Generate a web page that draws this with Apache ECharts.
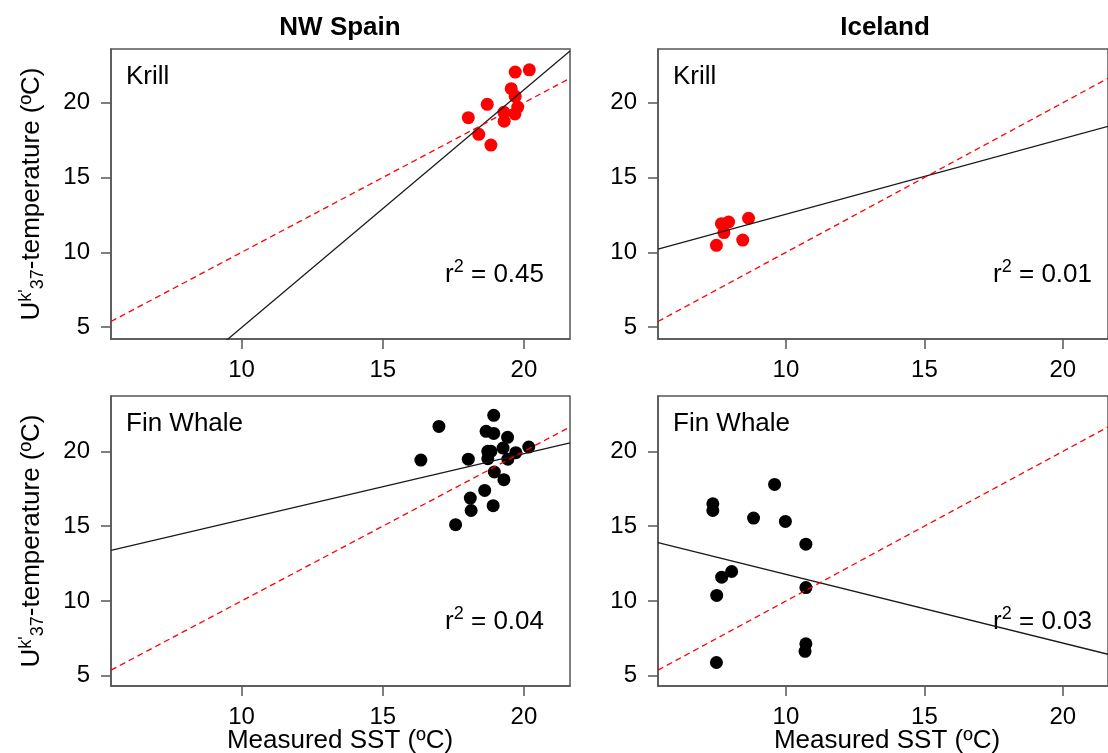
<!DOCTYPE html>
<html>
<head>
<meta charset="utf-8">
<script src="https://cdn.jsdelivr.net/npm/echarts@6/dist/echarts.min.js"></script>
<style>
html,body{margin:0;padding:0;background:#fff;}
#chart{width:1108px;height:753px;}
</style>
</head>
<body>
<div id="chart"></div>
<script>
// ---------- data ----------
const panelTitles = ['NW Spain', 'Iceland'];
const panelLabels = ['Krill', 'Krill', 'Fin Whale', 'Fin Whale'];
const r2Labels = ['0.45', '0.01', '0.04', '0.03'];
const xTicks = [10, 15, 20];
const yTicks = [5, 10, 15, 20];

// Krill, NW Spain (measured SST, Uk'37 temperature)
const krillSpainSST = [20.19, 19.69, 19.55, 19.69, 18.70, 19.78, 18.03, 19.29, 19.68, 19.30, 18.40, 18.83];
const krillSpainUk  = [22.20, 22.05, 20.94, 20.43, 19.89, 19.71, 19.00, 19.36, 19.25, 18.76, 17.89, 17.17];
// Krill, Iceland
const krillIcelandSST = [7.67, 7.93, 8.65, 7.76, 7.49, 8.44];
const krillIcelandUk  = [11.92, 12.03, 12.28, 11.32, 10.47, 10.82];
// Fin whale, NW Spain
const whaleSpainSST = [18.93, 16.99, 18.66, 18.93, 19.42, 18.72, 18.83, 19.26, 20.17, 19.71, 16.35, 18.03, 18.72, 19.43, 18.95, 19.29, 18.61, 18.10, 18.13, 18.91, 17.58];
const whaleSpainUk  = [22.41, 21.67, 21.34, 21.20, 20.94, 20.00, 20.00, 20.22, 20.29, 19.91, 19.42, 19.48, 19.51, 19.48, 18.62, 18.11, 17.39, 16.88, 16.05, 16.37, 15.10];
// Fin whale, Iceland
const whaleIcelandSST = [9.59, 7.36, 7.36, 8.83, 9.98, 10.72, 8.04, 7.68, 7.50, 10.72, 10.72, 10.69, 7.49];
const whaleIcelandUk  = [17.79, 16.50, 16.05, 15.54, 15.32, 13.80, 11.97, 11.59, 10.37, 10.90, 7.14, 6.64, 5.89];

// fitted regression lines [intercept, slope]
const fitKrillSpain = [-10.92, 1.589];
const fitKrillIceland = [7.50, 0.505];
const fitWhaleSpain = [11.0, 0.442];
const fitWhaleIceland = [16.37, -0.459];
// 1:1 reference line [intercept, slope]
const oneToOne = [0, 1];

// axis ranges
const xRange = [5.38, 21.63];
const yRangeTop = [4.21, 23.59];
const yRangeBottom = [4.32, 23.70];

// ---------- chart ----------
const FONT = '"Liberation Sans", Arial, sans-serif';
const AX = '#555';
const grids = [
  {left: 111, top: 49, width: 459, height: 290},
  {left: 658, top: 49, width: 459, height: 290},
  {left: 111, top: 396, width: 459, height: 290},
  {left: 658, top: 396, width: 459, height: 290}
].map(g => Object.assign(g, {show: true, borderColor: AX, borderWidth: 1.5, backgroundColor: 'transparent', containLabel: false}));

function xAxis(i) {
  return {
    type: 'value', gridIndex: i, min: xRange[0], max: xRange[1],
    axisLine: {show: true, onZero: false, lineStyle: {color: AX, width: 1.5}},
    axisTick: {show: true, length: 10, inside: false, customValues: xTicks, lineStyle: {color: AX, width: 1.5}},
    axisLabel: {customValues: xTicks, fontSize: 24, fontFamily: FONT, color: '#000', margin: 19},
    splitLine: {show: false}
  };
}
function yAxis(i, r) {
  return {
    type: 'value', gridIndex: i, min: r[0], max: r[1],
    axisLine: {show: true, onZero: false, lineStyle: {color: AX, width: 1.5}},
    axisTick: {show: true, length: 10, inside: false, customValues: yTicks, lineStyle: {color: AX, width: 1.5}},
    axisLabel: {customValues: yTicks, fontSize: 24, fontFamily: FONT, color: '#000', margin: 21, padding: [4, 0, 0, 0]},
    splitLine: {show: false}
  };
}
function zip(a, b) { return a.map((v, k) => [v, b[k]]); }
function scatter(i, xs, ys, color) {
  return {type: 'scatter', xAxisIndex: i, yAxisIndex: i, data: zip(xs, ys), symbol: 'circle', symbolSize: 13,
    itemStyle: {color: color, opacity: 1}, z: 2, silent: true, clip: true};
}
function abline(i, coef, color, type) {
  const d = [xRange[0], xRange[1]].map(x => [x, coef[0] + coef[1] * x]);
  return {type: 'line', xAxisIndex: i, yAxisIndex: i, data: d, showSymbol: false, symbol: 'none',
    lineStyle: {color: color, width: 1.3, type: type}, z: type === 'solid' ? 3 : 4, silent: true, clip: true};
}

const series = [
  scatter(0, krillSpainSST, krillSpainUk, '#ff0000'),
  scatter(1, krillIcelandSST, krillIcelandUk, '#ff0000'),
  scatter(2, whaleSpainSST, whaleSpainUk, '#000000'),
  scatter(3, whaleIcelandSST, whaleIcelandUk, '#000000'),
  abline(0, fitKrillSpain, '#1a1a1a', 'solid'),
  abline(1, fitKrillIceland, '#1a1a1a', 'solid'),
  abline(2, fitWhaleSpain, '#1a1a1a', 'solid'),
  abline(3, fitWhaleIceland, '#1a1a1a', 'solid'),
  abline(0, oneToOne, '#ff0000', [6, 4]),
  abline(1, oneToOne, '#ff0000', [6, 4]),
  abline(2, oneToOne, '#ff0000', [6, 4]),
  abline(3, oneToOne, '#ff0000', [6, 4])
];

const graphic = [];
// panel titles
[[340, 28], [885, 28]].forEach((p, k) => graphic.push({type: 'text', x: p[0], y: p[1],
  style: {text: panelTitles[k], font: 'bold 26px ' + FONT, fill: '#000', align: 'center', verticalAlign: 'middle'}}));
// panel labels
grids.forEach((g, k) => graphic.push({type: 'text', x: g.left + 15, y: g.top + 28,
  style: {text: panelLabels[k], font: '26px ' + FONT, fill: '#000', align: 'left', verticalAlign: 'middle'}}));
// r^2 labels
grids.forEach((g, k) => graphic.push({type: 'text', x: (k % 2 === 0 ? g.left + 433 : g.left + 434), y: g.top + 224,
  style: {text: '{r|r}{s|2}{r| = ' + r2Labels[k] + '}', align: 'right', verticalAlign: 'middle', fill: '#000',
    rich: {r: {fontSize: 26, fontFamily: FONT, fill: '#000', lineHeight: 30, verticalAlign: 'bottom'},
           s: {fontSize: 18, fontFamily: FONT, fill: '#000', lineHeight: 18, verticalAlign: 'top'}}}}));
// y-axis names
[194, 541].forEach(cy => graphic.push({type: 'text', x: 32, y: cy, rotation: Math.PI / 2,
  style: {text: '{b|U}{sup|k\'}{sub|37}{b|-temperature (ºC)}', align: 'center', verticalAlign: 'middle', fill: '#000',
    rich: {b: {fontSize: 26, fontFamily: FONT, fill: '#000', lineHeight: 30, verticalAlign: 'middle'},
           sup: {fontSize: 18, fontFamily: FONT, fill: '#000', lineHeight: 18, verticalAlign: 'top'},
           sub: {fontSize: 18, fontFamily: FONT, fill: '#000', lineHeight: 18, verticalAlign: 'bottom'}}}}));
// x-axis names
[340, 887].forEach(cx => graphic.push({type: 'text', x: cx, y: 741,
  style: {text: 'Measured SST (ºC)', font: '26px ' + FONT, fill: '#000', align: 'center', verticalAlign: 'middle'}}));

const chart = echarts.init(document.getElementById('chart'), null, {renderer: 'canvas'});
chart.setOption({
  animation: false,
  backgroundColor: '#fff',
  grid: grids,
  xAxis: [0, 1, 2, 3].map(xAxis),
  yAxis: [yAxis(0, yRangeTop), yAxis(1, yRangeTop), yAxis(2, yRangeBottom), yAxis(3, yRangeBottom)],
  series: series,
  graphic: graphic
});
</script>
</body>
</html>
